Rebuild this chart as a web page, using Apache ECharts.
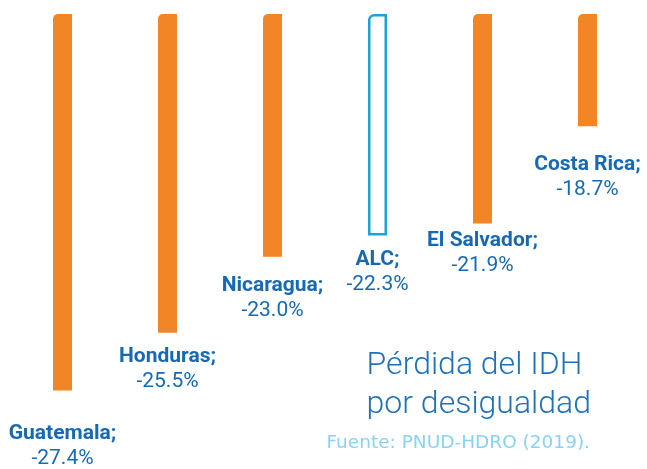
<!DOCTYPE html>
<html>
<head>
<meta charset="utf-8">
<script src="https://cdn.jsdelivr.net/npm/echarts@6/dist/echarts.min.js"></script>
<style>
  html, body { margin: 0; padding: 0; background: #ffffff; }
  #chart { width: 647px; height: 469px; }
</style>
</head>
<body>
<div id="chart"></div>
<script>
// Pérdida del IDH por desigualdad (%)
const countries = ['Guatemala', 'Honduras', 'Nicaragua', 'ALC', 'El Salvador', 'Costa Rica'];
const losses = [-27.4, -25.5, -23.0, -22.3, -21.9, -18.7];
// gap between bar end and its label, per bar
const labelGaps = [31, 11, 16, 12, 5, 26];

const ORANGE = '#f28526';
const LABEL_BLUE = '#1769b3';
const REGION_BLUE = '#1aa3d9';

const barData = losses.map((v, i) => {
  const isRegion = countries[i] === 'ALC';
  return {
    value: v,
    itemStyle: isRegion
      ? { color: '#ffffff', borderColor: REGION_BLUE, borderWidth: 2.5, borderRadius: [5, 0, 0, 0] }
      : { color: ORANGE, borderRadius: [5, 0, 0, 0] },
    label: { distance: labelGaps[i] }
  };
});

const chart = echarts.init(document.getElementById('chart'), null, { renderer: 'canvas' });
chart.setOption({
  animation: false,
  backgroundColor: '#ffffff',
  title: [
    {
      text: 'Pérdida del IDH\npor desigualdad',
      right: 56,
      top: 346,
      padding: 0,
      textStyle: {
        fontFamily: 'Roboto',
        fontWeight: 300,
        fontSize: 32,
        lineHeight: 39,
        color: '#1f72b8',
        align: 'right'
      }
    },
    {
      text: 'Fuente: PNUD-HDRO (2019).',
      right: 57,
      top: 432,
      padding: 0,
      textStyle: {
        fontFamily: 'DejaVu Sans',
        fontWeight: 'normal',
        fontSize: 18.5,
        lineHeight: 22,
        color: '#8ad2f3'
      }
    }
  ],
  grid: { left: 10, right: 7, top: 14, height: 425, containLabel: false },
  xAxis: {
    type: 'category',
    data: countries,
    show: false
  },
  yAxis: {
    type: 'value',
    min: -29,
    max: -15,
    startValue: -15,
    show: false
  },
  series: [{
    type: 'bar',
    data: barData,
    barWidth: 19,
    clip: true,
    label: {
      show: true,
      position: 'bottom',
      formatter: p => '{n|' + p.name + ';}\n{v|' + p.value.toFixed(1) + '%}',
      rich: {
        n: { fontFamily: 'Roboto', fontWeight: 'bold', fontSize: 21, lineHeight: 25, color: LABEL_BLUE },
        v: { fontFamily: 'Roboto', fontWeight: 'normal', fontSize: 21, lineHeight: 25, color: LABEL_BLUE }
      }
    }
  }]
});
</script>
</body>
</html>
